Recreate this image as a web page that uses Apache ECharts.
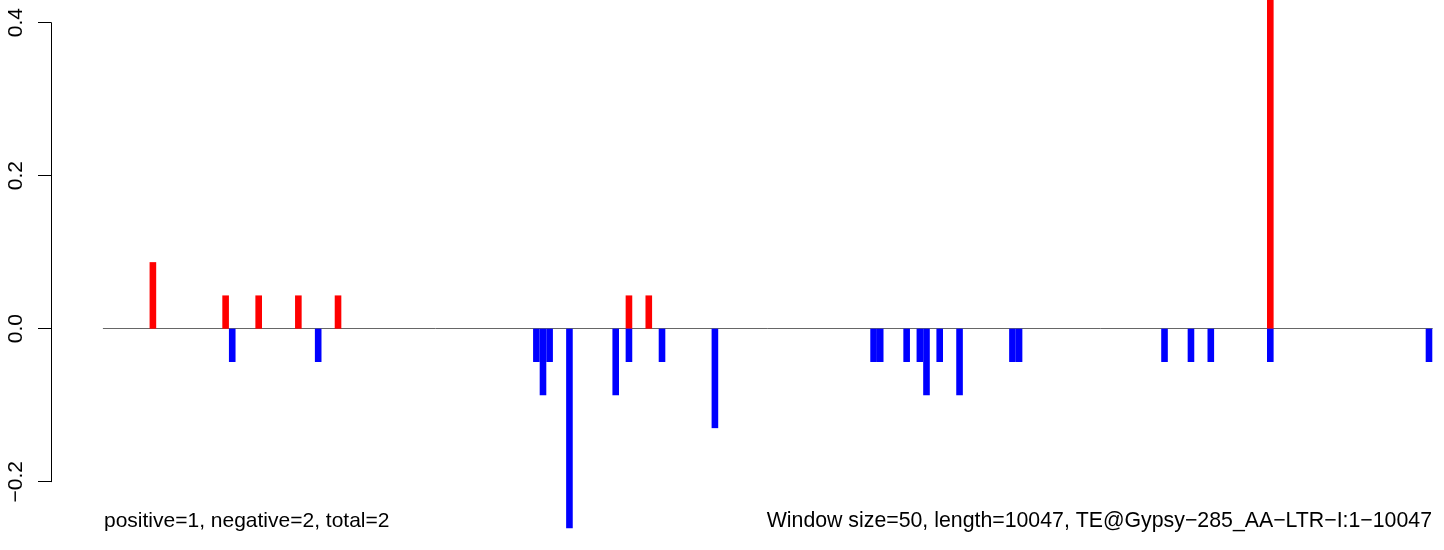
<!DOCTYPE html>
<html>
<head>
<meta charset="utf-8">
<script src="https://cdn.jsdelivr.net/npm/echarts@6/dist/echarts.min.js"></script>
<style>
  html, body { margin: 0; padding: 0; background: #fff; }
  #chart { width: 1444px; height: 550px; }
</style>
</head>
<body>
<div id="chart"></div>
<script>
// ---- data ----
const windowCount = 201;           // 10047 bp / 50 bp windows
const windowSize = 50;
const posWindows = [7, 18, 23, 29, 35, 79, 82, 176];
const posValues  = [0.087, 0.0435, 0.0435, 0.0435, 0.0435, 0.0435, 0.0435, 0.48];
const negWindows = [19, 32, 65, 66, 67, 70, 77, 79, 84, 92, 116, 117, 121, 123, 124, 126, 129, 137, 138, 160, 164, 167, 176, 200];
const negValues  = [-0.0435, -0.0435, -0.0435, -0.087, -0.0435, -0.261, -0.087, -0.0435, -0.0435, -0.13,
                    -0.0435, -0.0435, -0.0435, -0.0435, -0.087, -0.0435, -0.087, -0.0435, -0.0435,
                    -0.0435, -0.0435, -0.0435, -0.0435, -0.0435];
const yTicks = [-0.2, 0.0, 0.2, 0.4];
const leftNote  = 'positive=1, negative=2, total=2';
const rightNote = 'Window size=50, length=10047, TE@Gypsy\u2212285_AA\u2212LTR\u2212I:1\u221210047';

// ---- build series arrays ----
const categories = [];
for (let i = 0; i < windowCount; i++) categories.push(String(i * windowSize));
const posData = new Array(windowCount).fill(null);
const negData = new Array(windowCount).fill(null);
posWindows.forEach((w, k) => { posData[w] = posValues[k]; });
negWindows.forEach((w, k) => { negData[w] = negValues[k]; });

const FONT = '"Liberation Sans", Arial, Helvetica, sans-serif';
const chart = echarts.init(document.getElementById('chart'), null, { renderer: 'canvas' });
chart.setOption({
  animation: false,
  backgroundColor: '#ffffff',
  grid: { left: 103.3, right: 11.7, top: 22.7, bottom: 68.3, containLabel: false },
  xAxis: {
    type: 'category',
    data: categories,
    boundaryGap: true,
    axisLine: { show: true, onZero: true, lineStyle: { color: '#666666', width: 1 } },
    axisTick: { show: false },
    axisLabel: { show: false },
    splitLine: { show: false },
    z: 1
  },
  yAxis: {
    type: 'value',
    min: yTicks[0],
    max: yTicks[yTicks.length - 1],
    interval: 0.2,
    offset: 52.3,
    axisLine: { show: true, lineStyle: { color: '#000000', width: 1 } },
    axisTick: { show: true, length: 13, lineStyle: { color: '#000000', width: 1 } },
    axisLabel: {
      show: true,
      rotate: 90,
      margin: 24.5,
      color: '#000000',
      fontSize: 21,
      fontFamily: FONT,
      formatter: v => (v < 0 ? '\u2212' : '') + Math.abs(v).toFixed(1)
    },
    splitLine: { show: false }
  },
  series: [
    {
      name: 'positive',
      type: 'bar',
      data: posData,
      barWidth: '100%',
      barGap: '-100%',
      clip: false,
      itemStyle: { color: '#ff0000' },
      z: 3
    },
    {
      name: 'negative',
      type: 'bar',
      data: negData,
      barWidth: '100%',
      barGap: '-100%',
      clip: false,
      itemStyle: { color: '#0000ff' },
      z: 3
    }
  ],
  graphic: [
    {
      type: 'text', x: 104, y: 521,
      style: { text: leftNote, fill: '#000', font: '21px ' + FONT, align: 'left', verticalAlign: 'middle' }
    },
    {
      type: 'text', x: 1432, y: 521,
      style: { text: rightNote, fill: '#000', font: '21.3px ' + FONT, align: 'right', verticalAlign: 'middle' }
    }
  ]
});
</script>
</body>
</html>
